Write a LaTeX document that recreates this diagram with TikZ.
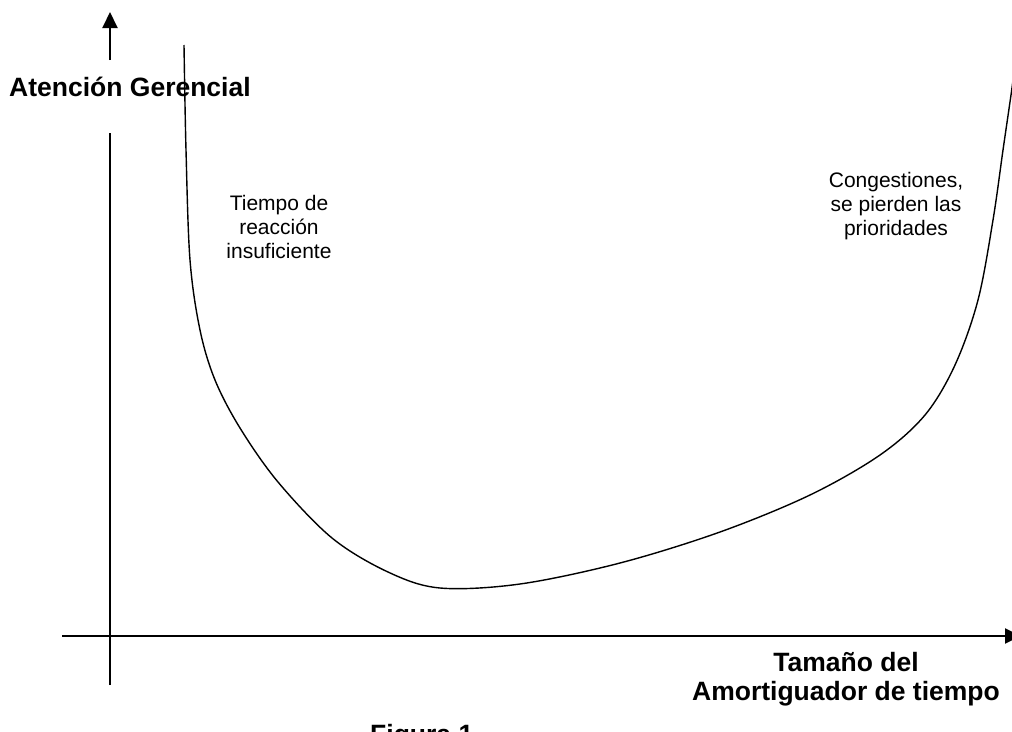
\documentclass[tikz,border=0pt]{standalone}
\usepackage{fontspec}
\setmainfont{Liberation Sans}
\usetikzlibrary{arrows.meta}
\begin{document}
\begin{tikzpicture}[x=1pt,y=-1pt,
  axis/.style={line width=2pt},
  tip/.style={-{Triangle[length=16pt,width=15pt]}},
  biglabel/.style={font=\fontsize{26.5}{29}\selectfont\bfseries,inner sep=0pt,align=center},
  smalllabel/.style={font=\fontsize{21}{24}\selectfont,inner sep=0pt,align=center},
  curve/.style={line width=1.4pt}]
\useasboundingbox (0,0) rectangle (1012,731);
% axes
\coordinate (ybot) at (110,685);
\coordinate (ygapbot) at (110,133);
\coordinate (ygaptop) at (110,60);
\coordinate (ytop) at (110,12);
\coordinate (xleft) at (62,636);
\coordinate (xright) at (1021,636);
\draw[axis] (ybot) -- (ygapbot);
\draw[axis,tip] (ygaptop) -- (ytop);
\draw[axis,tip] (xleft) -- (xright);
% labels
\node[biglabel,anchor=base west] (ylab) at (9,96.5) {Atención Gerencial};
\node[biglabel,anchor=base] (xlab) at (846,700) {Tamaño del\\Amortiguador de tiempo};
\node[biglabel,anchor=base west] (fig) at (370,743) {Figura 1};
\node[smalllabel,anchor=base] (left) at (279,258) {Tiempo de\\reacción\\insuficiente};
\node[smalllabel,anchor=base] (right) at (896,235) {Congestiones,\\se pierden las\\prioridades};
% curve
\draw[curve] plot[smooth,tension=0.55] coordinates {
 (184,45) (186,150) (190,260) (200,330) (215,380) (240,428) (278,482)
 (332,538) (388,572) (440,588) (520,584) (620,563) (720,532) (810,495)
 (880,455) (925,415) (955,365) (978,300) (993,220) (1003,150) (1011,95) (1013,80)};
\end{tikzpicture}
\end{document}
